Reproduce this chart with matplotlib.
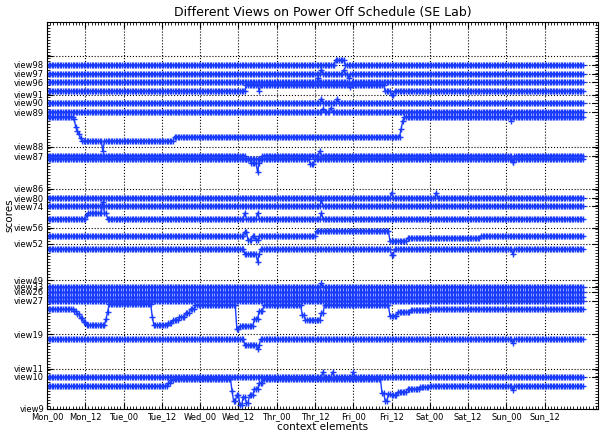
import numpy as np
import matplotlib
matplotlib.use("Agg")
import matplotlib.pyplot as plt

# x axis: hours since Monday 00:00, one sample every half hour
step_h = 0.5
hours = np.arange(0, 168 + step_h, step_h)

tick_hours = [0, 12, 24, 36, 48, 60, 72, 84, 96, 108, 120, 132, 144, 156]
tick_names = ["Mon_00", "Mon_12", "Tue_00", "Tue_12", "Wed_00", "Wed_12", "Thr_00",
              "Thr_12", "Fri_00", "Fri_12", "Sat_00", "Sat_12", "Sun_00", "Sun_12"]

# y axis: score positions of the labelled views
view_pos = [0, 32, 40, 75, 108.5, 117.5, 122, 129, 165.5, 181.5, 203, 211, 220,
            253, 262, 297, 306, 314.5, 326.7, 335.3, 344, 353]
view_names = ["view9", "view10", "view11", "view19", "view27", "view26", "view33",
              "view49", "view52", "view56", "view74", "view80", "view86", "view87",
              "view88", "view89", "view90", "view91", "view96", "view97", "view98", ""]

# each series: (hour, score) breakpoints, score holds until next breakpoint
s98 = [(0, 344), (90.5, 349), (93.5, 344)]
s97 = [(0, 335.3), (86, 339.5), (86.5, 335.3), (93, 339), (93.5, 335.3), (94.5, 331), (95, 335.3)]
s96 = [(0, 326.7), (85, 331), (85.5, 326.7), (95, 322), (95.5, 326.7)]
s91 = [(0, 318), (62.5, 324.5), (66.5, 318), (67, 324.5), (106, 318), (108, 314.5), (109, 318)]
s90 = [(0, 306), (86, 310.5), (86.5, 306), (91, 310.5), (91.5, 306)]
s89 = [(0, 297), (86.5, 300.5), (87, 297), (89, 301), (89.5, 297)]
s88 = [(0, 292.3), (8.5, 290), (9, 282), (9.5, 278), (10, 275), (10.5, 271), (11, 268),
       (17.5, 258), (18, 268), (40, 272.5), (111, 280), (111.5, 288), (112, 292.3),
       (145.5, 288), (146, 292.3)]
s87a = [(0, 253.5), (62.5, 250), (64, 246), (66, 237), (66.5, 246), (67, 250), (67.5, 253.5),
        (85.5, 258), (86, 253.5), (146, 247), (146.5, 253.5)]
s87b = [(0, 250), (82.5, 245), (84, 250), (146, 247), (146.5, 250)]
s80 = [(0, 211), (108, 216.5), (108.5, 211), (122, 216.5), (122.5, 211)]
s74 = [(0, 203), (86, 209), (86.5, 203)]
s60 = [(0, 190.3), (12.5, 194), (13, 196), (17.5, 207), (18, 196), (19, 190.3),
       (62, 196), (62.5, 190.3), (66, 196), (66.5, 190.3), (86, 196), (86.5, 190.3)]
s57 = [(0, 173), (62, 177), (63, 169), (64.5, 173), (65.5, 169), (66.5, 173),
       (84.5, 178), (107.5, 168), (113, 171), (136, 173)]
s53 = [(0, 160), (62, 155), (66, 147), (66.5, 155), (67, 160), (108, 154), (109, 160),
       (146, 155), (146.5, 160)]
s33 = [(0, 122), (86, 126), (86.5, 122)]
s26 = [(0, 117.5)]
s28 = [(0, 112.5)]
s27 = [(0, 108.3)]
s20 = [(0, 100), (8.5, 98), (9.5, 95), (10.5, 91), (11.5, 87), (12.5, 84), (18.5, 90),
       (19, 97), (19.5, 105), (33, 92), (33.5, 84), (38, 86), (39.5, 89), (41.5, 92),
       (43.5, 96), (45, 100), (46.5, 104), (59.5, 80), (60.5, 83), (65, 90), (66.5, 98),
       (68, 104), (80, 94), (81, 89), (86, 96), (87, 104), (107.5, 93), (110, 97),
       (114, 99), (120, 100)]
s19 = [(0, 70), (62, 64), (66, 60), (66.5, 64), (67, 70), (146, 66), (146.5, 70)]
s10 = [(0, 32), (86.5, 37), (87, 32), (89.5, 37), (90, 32), (96, 37), (96.5, 32)]
s9 = [(0, 23), (38, 26), (39, 29), (40, 30), (58, 18), (58.5, 8), (59.5, 14), (60.5, 4),
      (61.5, 12), (62.5, 6), (63.5, 14), (65, 20), (66.5, 26), (68, 30),
      (105, 16), (106, 8), (107, 15), (108, 14), (110, 17), (113, 20), (117, 22),
      (120, 23), (146, 19), (146.5, 23)]

series = [s98, s97, s96, s91, s90, s89, s88, s87a, s87b, s80, s74, s60, s57, s53,
          s33, s26, s28, s27, s20, s19, s10, s9]


def expand(breaks):
    vals = np.empty_like(hours)
    for h, v in breaks:
        vals[hours >= h] = v
    return vals


fig = plt.figure(figsize=(6.03, 4.33), dpi=100)
ax = fig.add_axes([47 / 603, 1 - 409 / 433, 551 / 603, 387 / 433])

for s in series:
    ax.plot(hours, expand(s), color="#1a3cff", marker="+", markersize=5,
            markeredgewidth=1, linewidth=1)

ax.set_xlim(0, 172.7)
ax.set_ylim(0, 387)
ax.set_xticks(tick_hours)
ax.set_xticklabels(tick_names)
ax.set_yticks(view_pos)
ax.set_yticklabels(view_names)
ax.set_xticks(np.arange(0, 173, 1), minor=True)
ax.set_yticks(np.arange(0, 387, 3), minor=True)
ax.tick_params(axis="both", which="major", direction="in", length=4, labelsize=6,
               top=True, right=True, pad=2)
ax.tick_params(axis="both", which="minor", direction="in", length=2,
               top=True, right=True)
ax.grid(True, which="major", linestyle=":", color="black", linewidth=0.8)

ax.set_xlabel("context elements", fontsize=7.5, labelpad=1)
ax.set_ylabel("scores", fontsize=7.5, labelpad=-0.5)
ax.set_title("Different Views on Power Off Schedule (SE Lab)", fontsize=9, pad=4)

fig.savefig("out.png", dpi=100)
